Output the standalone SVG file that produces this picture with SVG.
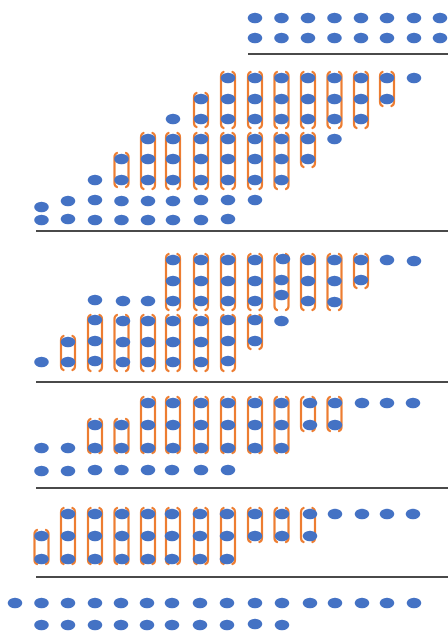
<svg xmlns="http://www.w3.org/2000/svg" xmlns:xlink="http://www.w3.org/1999/xlink" width="448" height="632" viewBox="0 0 448 632">
<style>
.ln{stroke:#4a4a4a;stroke-width:1.8;fill:none}
.br{stroke:#ED7D31;stroke-width:2.2;fill:none;stroke-linecap:round}
</style>
<defs>
<ellipse id="d" cx="0" cy="0" rx="7.3" ry="5.2" fill="#4472C4"/>
<path id="b2" class="br" d="M-4.5,0 Q-7,1 -7,4 V30 Q-7,33 -4.5,34 M4.5,0 Q7,1 7,4 V30 Q7,33 4.5,34"/>
<path id="b3" class="br" d="M-4.5,0 Q-7,1 -7,4 V52 Q-7,55 -4.5,56 M4.5,0 Q7,1 7,4 V52 Q7,55 4.5,56"/>
</defs>
<rect width="448" height="632" fill="#fff"/>
<g id="lines">
<line class="ln" x1="248" y1="54" x2="448" y2="54"/>
<line class="ln" x1="36" y1="231" x2="448" y2="231"/>
<line class="ln" x1="36" y1="382" x2="448" y2="382"/>
<line class="ln" x1="36" y1="488" x2="448" y2="488"/>
<line class="ln" x1="36" y1="577" x2="448" y2="577"/>
</g>
<g id="brackets">
<use href="#b2" x="121.5" y="153"/>
<use href="#b3" x="148" y="133"/><use href="#b3" x="173" y="133"/><use href="#b3" x="201" y="133"/><use href="#b3" x="228" y="133"/><use href="#b3" x="255" y="133"/><use href="#b3" x="281.5" y="133"/>
<use href="#b2" x="308" y="133"/>
<use href="#b2" x="201" y="93"/>
<use href="#b3" x="228" y="72"/><use href="#b3" x="255" y="72"/><use href="#b3" x="281.5" y="72"/><use href="#b3" x="308" y="72"/><use href="#b3" x="334.5" y="72"/><use href="#b3" x="361" y="72"/>
<use href="#b2" x="387" y="72"/>

<use href="#b3" x="173" y="254"/><use href="#b3" x="201" y="254"/><use href="#b3" x="228" y="254"/><use href="#b3" x="255" y="254"/><use href="#b3" x="281.5" y="254"/><use href="#b3" x="308" y="254"/><use href="#b3" x="334.5" y="254"/>
<use href="#b2" x="361" y="254"/>
<use href="#b3" x="95" y="315"/><use href="#b3" x="121.5" y="315"/><use href="#b3" x="148" y="315"/><use href="#b3" x="173" y="315"/><use href="#b3" x="201" y="315"/><use href="#b3" x="228" y="315"/>
<use href="#b2" x="68" y="336"/><use href="#b2" x="255" y="315"/>

<use href="#b3" x="148" y="397"/><use href="#b3" x="173" y="397"/><use href="#b3" x="201" y="397"/><use href="#b3" x="228" y="397"/><use href="#b3" x="255" y="397"/><use href="#b3" x="281.5" y="397"/>
<use href="#b2" x="95" y="419"/><use href="#b2" x="121.5" y="419"/>
<use href="#b2" x="308" y="397"/><use href="#b2" x="334.5" y="397"/>

<use href="#b2" x="41.5" y="530"/>
<use href="#b3" x="68" y="508"/><use href="#b3" x="95" y="508"/><use href="#b3" x="121.5" y="508"/><use href="#b3" x="148" y="508"/><use href="#b3" x="173" y="508"/><use href="#b3" x="201" y="508"/><use href="#b3" x="228" y="508"/>
<use href="#b2" x="255" y="508"/><use href="#b2" x="281.5" y="508"/><use href="#b2" x="308" y="508"/>
</g>
<g id="dots">
<!-- section 1 -->
<use href="#d" x="255" y="18"/><use href="#d" x="281.5" y="18"/><use href="#d" x="308" y="18"/><use href="#d" x="334.5" y="18"/><use href="#d" x="361" y="18"/><use href="#d" x="387" y="18"/><use href="#d" x="414" y="18"/><use href="#d" x="440" y="18"/>
<use href="#d" x="255" y="38"/><use href="#d" x="281.5" y="38"/><use href="#d" x="308" y="38"/><use href="#d" x="334.5" y="38"/><use href="#d" x="361" y="38"/><use href="#d" x="387" y="38"/><use href="#d" x="414" y="38"/><use href="#d" x="440" y="38"/>
<!-- section 2 -->
<use href="#d" x="228" y="78"/><use href="#d" x="255" y="78"/><use href="#d" x="281.5" y="78"/><use href="#d" x="308" y="78"/><use href="#d" x="334.5" y="78"/><use href="#d" x="361" y="78"/><use href="#d" x="387" y="78"/><use href="#d" x="414" y="78"/>
<use href="#d" x="201" y="99"/><use href="#d" x="228" y="99"/><use href="#d" x="255" y="99"/><use href="#d" x="281.5" y="99"/><use href="#d" x="308" y="99"/><use href="#d" x="334.5" y="99"/><use href="#d" x="361" y="99"/><use href="#d" x="387" y="99"/>
<use href="#d" x="173" y="119"/><use href="#d" x="201" y="119"/><use href="#d" x="228" y="119"/><use href="#d" x="255" y="119"/><use href="#d" x="281.5" y="119"/><use href="#d" x="308" y="119"/><use href="#d" x="334.5" y="119"/><use href="#d" x="361" y="119"/>
<use href="#d" x="148" y="139"/><use href="#d" x="173" y="139"/><use href="#d" x="201" y="139"/><use href="#d" x="228" y="139"/><use href="#d" x="255" y="139"/><use href="#d" x="281.5" y="139"/><use href="#d" x="308" y="139"/><use href="#d" x="334.5" y="139"/>
<use href="#d" x="121.5" y="159"/><use href="#d" x="148" y="159"/><use href="#d" x="173" y="159"/><use href="#d" x="201" y="159"/><use href="#d" x="228" y="159"/><use href="#d" x="255" y="159"/><use href="#d" x="281.5" y="159"/><use href="#d" x="308" y="159"/>
<use href="#d" x="95" y="180"/><use href="#d" x="121.5" y="180"/><use href="#d" x="148" y="180"/><use href="#d" x="173" y="180"/><use href="#d" x="201" y="180"/><use href="#d" x="228" y="180"/><use href="#d" x="255" y="180"/><use href="#d" x="281.5" y="180"/>
<use href="#d" x="41.5" y="207"/><use href="#d" x="68" y="201"/><use href="#d" x="95" y="200"/><use href="#d" x="121.5" y="201"/><use href="#d" x="148" y="201"/><use href="#d" x="173" y="201"/><use href="#d" x="201" y="200"/><use href="#d" x="228" y="200"/><use href="#d" x="255" y="200"/>
<use href="#d" x="41.5" y="220"/><use href="#d" x="68" y="219"/><use href="#d" x="95" y="220"/><use href="#d" x="121.5" y="220"/><use href="#d" x="148" y="220"/><use href="#d" x="173" y="220"/><use href="#d" x="201" y="220"/><use href="#d" x="228" y="219"/>
<!-- section 3 -->
<use href="#d" x="173" y="260"/><use href="#d" x="201" y="260"/><use href="#d" x="228" y="260"/><use href="#d" x="255" y="260"/><use href="#d" x="283" y="259"/><use href="#d" x="308" y="260"/><use href="#d" x="334.5" y="260"/><use href="#d" x="361" y="260"/><use href="#d" x="387" y="260"/><use href="#d" x="414" y="261"/>
<use href="#d" x="173" y="281"/><use href="#d" x="201" y="281"/><use href="#d" x="228" y="281"/><use href="#d" x="255" y="281"/><use href="#d" x="281.5" y="280"/><use href="#d" x="308" y="281"/><use href="#d" x="334.5" y="281"/><use href="#d" x="361" y="280"/>
<use href="#d" x="173" y="301"/><use href="#d" x="201" y="301"/><use href="#d" x="228" y="301"/><use href="#d" x="255" y="301"/><use href="#d" x="281.5" y="295"/><use href="#d" x="308" y="301"/><use href="#d" x="334.5" y="302"/>
<use href="#d" x="95" y="300"/><use href="#d" x="123" y="301"/><use href="#d" x="148" y="301"/>
<use href="#d" x="95" y="320"/><use href="#d" x="123" y="321"/><use href="#d" x="148" y="321"/><use href="#d" x="173" y="321"/><use href="#d" x="201" y="321"/><use href="#d" x="228" y="320"/><use href="#d" x="255" y="320"/><use href="#d" x="281.5" y="321"/>
<use href="#d" x="68" y="342"/><use href="#d" x="95" y="341"/><use href="#d" x="123" y="342"/><use href="#d" x="148" y="342"/><use href="#d" x="173" y="342"/><use href="#d" x="201" y="342"/><use href="#d" x="228" y="341"/><use href="#d" x="255" y="341"/>
<use href="#d" x="41.5" y="362"/><use href="#d" x="68" y="362"/><use href="#d" x="95" y="361"/><use href="#d" x="123" y="362"/><use href="#d" x="148" y="362"/><use href="#d" x="173" y="362"/><use href="#d" x="201" y="362"/><use href="#d" x="228" y="361"/>
<!-- section 4 -->
<use href="#d" x="148" y="403"/><use href="#d" x="173" y="403"/><use href="#d" x="201" y="403"/><use href="#d" x="228" y="403"/><use href="#d" x="255" y="403"/><use href="#d" x="281.5" y="403"/><use href="#d" x="310" y="403"/><use href="#d" x="335" y="403"/><use href="#d" x="362" y="403"/><use href="#d" x="387" y="403"/><use href="#d" x="413" y="403"/>
<use href="#d" x="95" y="425"/><use href="#d" x="121.5" y="425"/><use href="#d" x="148" y="425"/><use href="#d" x="173" y="425"/><use href="#d" x="201" y="425"/><use href="#d" x="228" y="425"/><use href="#d" x="255" y="425"/><use href="#d" x="281.5" y="425"/><use href="#d" x="310" y="425"/><use href="#d" x="335" y="425"/>
<use href="#d" x="41.5" y="448"/><use href="#d" x="68" y="448"/><use href="#d" x="95" y="448"/><use href="#d" x="121.5" y="448"/><use href="#d" x="148" y="448"/><use href="#d" x="173" y="448"/><use href="#d" x="201" y="448"/><use href="#d" x="228" y="448"/><use href="#d" x="255" y="448"/><use href="#d" x="281.5" y="448"/>
<use href="#d" x="41.5" y="471"/><use href="#d" x="68" y="471"/><use href="#d" x="95" y="470"/><use href="#d" x="121.5" y="470"/><use href="#d" x="148" y="470"/><use href="#d" x="172" y="470"/><use href="#d" x="201" y="470"/><use href="#d" x="228" y="470"/>
<!-- section 5 -->
<use href="#d" x="68" y="514"/><use href="#d" x="95" y="514"/><use href="#d" x="122" y="514"/><use href="#d" x="148" y="514"/><use href="#d" x="172" y="514"/><use href="#d" x="200" y="514"/><use href="#d" x="227" y="514"/><use href="#d" x="255" y="514"/><use href="#d" x="282" y="514"/><use href="#d" x="310" y="514"/><use href="#d" x="335" y="514"/><use href="#d" x="362" y="514"/><use href="#d" x="387" y="514"/><use href="#d" x="413" y="514"/>
<use href="#d" x="41.5" y="536"/><use href="#d" x="68" y="536"/><use href="#d" x="95" y="536"/><use href="#d" x="122" y="536"/><use href="#d" x="148" y="536"/><use href="#d" x="172" y="536"/><use href="#d" x="200" y="536"/><use href="#d" x="227" y="536"/><use href="#d" x="255" y="536"/><use href="#d" x="282" y="536"/><use href="#d" x="310" y="536"/>
<use href="#d" x="41.5" y="559"/><use href="#d" x="68" y="559"/><use href="#d" x="95" y="559"/><use href="#d" x="122" y="559"/><use href="#d" x="148" y="559"/><use href="#d" x="172" y="559"/><use href="#d" x="200" y="559"/><use href="#d" x="227" y="559"/>
<!-- section 6 -->
<use href="#d" x="15" y="603"/><use href="#d" x="41.5" y="603"/><use href="#d" x="68" y="603"/><use href="#d" x="95" y="603"/><use href="#d" x="121" y="603"/><use href="#d" x="147" y="603"/><use href="#d" x="172" y="603"/><use href="#d" x="200" y="603"/><use href="#d" x="227" y="603"/><use href="#d" x="255" y="603"/><use href="#d" x="282" y="603"/><use href="#d" x="310" y="603"/><use href="#d" x="335" y="603"/><use href="#d" x="362" y="603"/><use href="#d" x="387" y="603"/><use href="#d" x="414" y="603"/>
<use href="#d" x="41.5" y="625"/><use href="#d" x="68" y="625"/><use href="#d" x="95" y="625"/><use href="#d" x="121" y="625"/><use href="#d" x="147" y="625"/><use href="#d" x="172" y="625"/><use href="#d" x="200" y="625"/><use href="#d" x="227" y="625"/><use href="#d" x="255" y="624"/><use href="#d" x="282" y="625"/>
</g>
</svg>
